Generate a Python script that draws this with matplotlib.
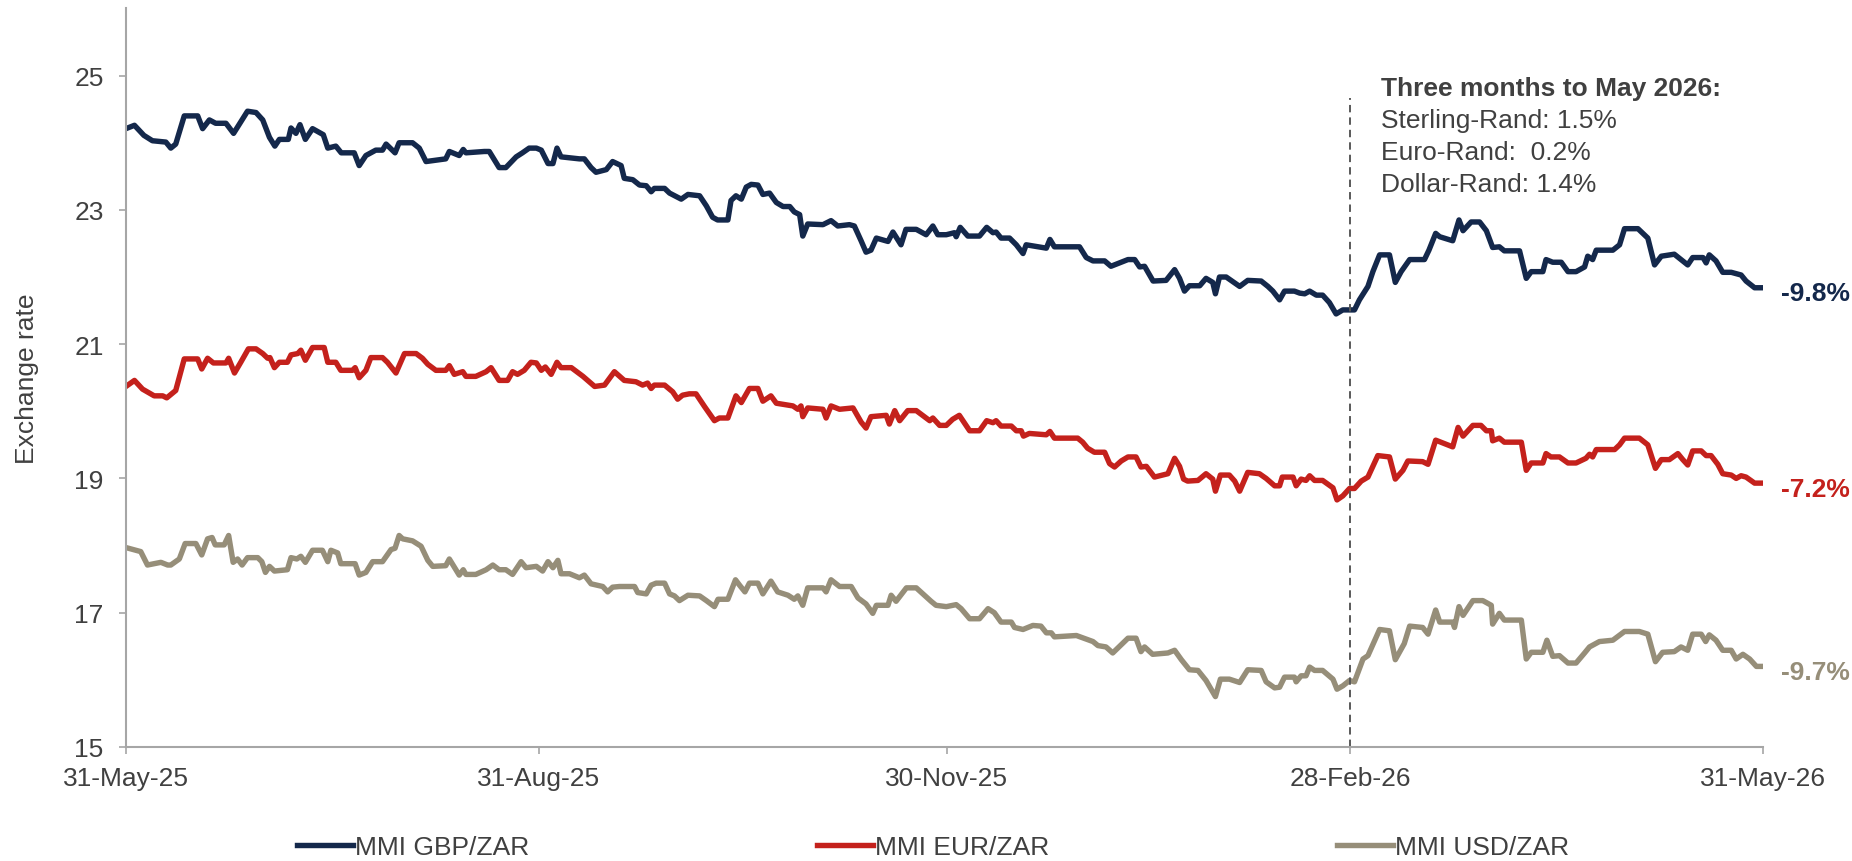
import numpy as np
import matplotlib
matplotlib.use('Agg')
import matplotlib.pyplot as plt
import matplotlib.dates as mdates
from datetime import datetime

plt.rcParams['font.family'] = ['Liberation Sans', 'DejaVu Sans']
plt.rcParams['font.size'] = 19

#### Data (day offsets from 31-May-25) ####
start_date = datetime(2025, 5, 31)

gbp_days = [0, 1.9, 4.0, 5.9, 8.9, 10.0, 11.1, 13.0, 16.0, 17.1, 18.6, 20.0, 22.3, 24.0, 27.1, 29.0,
            30.5, 32.0, 33.2, 34.2, 36.2, 36.8, 37.9, 38.8, 40.0, 41.6, 44.0, 45.0, 46.8, 48.0, 50.9,
            52.0, 53.5, 55.7, 57.2, 58.0, 60.0, 60.9, 63.9, 65.4, 66.9, 71.3, 72.1, 74.3, 75.2, 75.8,
            79.9, 81.0, 83.2, 84.7, 87.0, 88.4, 89.9, 91.5, 92.6, 94.1, 95.2, 96.1, 97.0, 101.1, 102.2,
            103.7, 104.8, 107.1, 108.5, 110.4, 111.1, 113.0, 114.5, 116.0, 117.1, 117.8, 120.1, 121.2,
            123.8, 125.3, 127.9, 129.4, 130.8, 131.9, 134.2, 134.9, 136.0, 137.2, 138.3, 139.4, 140.9,
            142.0, 143.5, 145.0, 146.5, 148.0, 149.0, 150.2, 150.9, 152.0, 155.4, 157.2, 158.7, 161.3,
            162.4, 163.9, 165.0, 166.1, 167.3, 169.9, 171.0, 172.8, 173.9, 176.2, 178.4, 179.9, 181.0,
            182.9, 184.7, 185.1, 186.0, 187.7, 190.3, 191.9, 193.3, 194.0, 195.1, 197.0, 198.5, 200.0,
            200.7, 205.2, 206.0, 207.0, 212.6, 214.1, 215.6, 218.2, 219.6, 221.5, 223.4, 224.9, 226.0,
            227.1, 229.0, 231.9, 233.8, 234.9, 236.0, 237.1, 239.4, 240.8, 242.3, 242.9, 243.8, 245.3,
            248.3, 250.1, 253.1, 254.6, 255.7, 257.2, 258.3, 260.5, 261.7, 262.8, 263.9, 265.4, 266.8,
            268.3, 269.8, 271.3, 273.9, 275.0, 276.9, 278.0, 279.5, 281.7, 283.0, 284.3, 286.2, 289.5,
            290.5, 292.0, 292.9, 295.8, 297.2, 298.1, 299.9, 301.8, 303.3, 304.7, 306.2, 307.3, 310.7,
            312.2, 313.3, 315.9, 316.6, 318.1, 320.0, 321.5, 323.3, 325.2, 325.9, 327.0, 327.8, 331.5,
            333.0, 334.1, 337.1, 339.3, 340.8, 342.3, 345.2, 346.7, 348.2, 349.3, 351.6, 352.3, 353.0,
            354.5, 356.0, 357.9, 360.1, 361.2, 363.1, 365.0]
gbp_rate = [24.21, 24.26, 24.11, 24.03, 24.01, 23.92, 23.98, 24.40, 24.40, 24.21, 24.34, 24.29, 24.29,
            24.14, 24.47, 24.45, 24.34, 24.08, 23.95, 24.05, 24.05, 24.22, 24.14, 24.27, 24.05, 24.21,
            24.12, 23.92, 23.95, 23.85, 23.85, 23.66, 23.81, 23.89, 23.89, 23.98, 23.85, 24.00, 24.00,
            23.92, 23.72, 23.76, 23.87, 23.81, 23.90, 23.85, 23.87, 23.87, 23.63, 23.63, 23.79, 23.85,
            23.92, 23.92, 23.89, 23.69, 23.69, 23.92, 23.79, 23.76, 23.76, 23.63, 23.56, 23.60, 23.72,
            23.66, 23.47, 23.45, 23.37, 23.36, 23.27, 23.32, 23.32, 23.25, 23.16, 23.23, 23.21, 23.06,
            22.89, 22.85, 22.85, 23.14, 23.21, 23.16, 23.34, 23.38, 23.37, 23.23, 23.25, 23.11, 23.05,
            23.05, 22.97, 22.93, 22.61, 22.79, 22.78, 22.84, 22.76, 22.78, 22.76, 22.54, 22.37, 22.40,
            22.58, 22.53, 22.67, 22.48, 22.71, 22.71, 22.63, 22.76, 22.63, 22.63, 22.66, 22.60, 22.74,
            22.61, 22.61, 22.74, 22.66, 22.67, 22.58, 22.58, 22.48, 22.35, 22.48, 22.43, 22.56, 22.45,
            22.45, 22.29, 22.24, 22.24, 22.16, 22.21, 22.26, 22.26, 22.15, 22.16, 21.94, 21.95, 22.11,
            21.98, 21.79, 21.87, 21.87, 21.98, 21.92, 21.75, 22.00, 22.00, 21.86, 21.95, 21.94, 21.86,
            21.79, 21.66, 21.79, 21.79, 21.76, 21.75, 21.79, 21.73, 21.73, 21.62, 21.45, 21.51, 21.51,
            21.66, 21.86, 22.08, 22.33, 22.33, 21.92, 22.08, 22.26, 22.26, 22.40, 22.65, 22.60, 22.54,
            22.85, 22.69, 22.82, 22.82, 22.69, 22.44, 22.45, 22.39, 22.39, 21.98, 22.08, 22.08, 22.26,
            22.22, 22.22, 22.08, 22.08, 22.15, 22.31, 22.26, 22.40, 22.40, 22.48, 22.72, 22.72, 22.58,
            22.18, 22.31, 22.34, 22.26, 22.18, 22.29, 22.29, 22.21, 22.33, 22.24, 22.07, 22.07, 22.03,
            21.94, 21.84, 21.84]

eur_days = [0, 1.9, 3.7, 6.3, 8.2, 9.1, 11.1, 13.0, 16.0, 16.9, 18.2, 19.5, 22.3, 22.9, 24.2, 25.6,
            27.3, 29.0, 30.5, 31.6, 32.1, 33.1, 34.2, 36.0, 36.8, 38.3, 39.0, 40.0, 41.6, 44.2, 45.0,
            46.8, 47.9, 50.5, 51.1, 52.0, 53.5, 54.6, 57.2, 58.3, 60.2, 62.1, 64.7, 66.1, 67.3, 69.1,
            71.3, 72.1, 73.2, 75.1, 75.8, 78.0, 80.3, 81.4, 83.2, 85.1, 86.2, 87.3, 88.8, 90.3, 91.5,
            92.6, 93.5, 94.8, 96.1, 97.0, 99.3, 101.9, 104.5, 106.7, 108.9, 111.1, 113.7, 115.2, 116.3,
            117.1, 117.8, 120.1, 121.9, 123.0, 124.1, 125.6, 127.1, 129.0, 131.2, 132.3, 134.2, 136.0,
            137.2, 139.0, 140.9, 142.0, 143.8, 145.0, 148.7, 149.8, 150.5, 150.9, 152.0, 155.4, 156.1,
            157.2, 159.1, 162.1, 163.9, 165.0, 166.1, 169.5, 170.2, 171.4, 172.5, 174.3, 176.2, 178.0,
            179.2, 179.9, 181.4, 182.9, 184.3, 185.8, 188.1, 190.3, 191.9, 193.3, 194.0, 195.1, 197.4,
            198.5, 199.6, 200.1, 201.4, 205.2, 206.0, 207.0, 212.2, 213.3, 214.4, 215.9, 218.2, 219.3,
            220.4, 221.9, 223.4, 225.2, 226.3, 227.5, 229.3, 232.3, 233.8, 234.9, 235.8, 236.7, 239.0,
            240.8, 242.3, 242.9, 244.0, 246.0, 247.2, 248.3, 250.1, 252.7, 254.2, 256.1, 257.2, 257.8,
            260.2, 260.9, 262.0, 263.1, 263.9, 265.0, 266.8, 269.1, 270.0, 271.3, 272.8, 273.9, 275.4,
            276.9, 279.1, 281.7, 283.0, 284.7, 285.8, 289.1, 290.3, 292.0, 295.8, 297.0, 298.1, 300.3,
            302.1, 303.3, 304.4, 304.7, 306.2, 307.3, 311.1, 312.2, 313.3, 315.9, 316.6, 317.7, 319.6,
            321.5, 323.3, 325.5, 326.3, 327.0, 327.8, 331.9, 333.0, 334.1, 337.4, 339.3, 341.0, 342.3,
            344.1, 346.0, 347.1, 348.2, 349.3, 351.2, 352.3, 353.4, 354.9, 356.0, 357.9, 359.0, 360.1,
            361.2, 363.1, 365.0]
eur_rate = [20.37, 20.46, 20.33, 20.23, 20.23, 20.20, 20.31, 20.78, 20.78, 20.63, 20.79, 20.72, 20.72,
            20.79, 20.57, 20.73, 20.93, 20.93, 20.86, 20.79, 20.80, 20.65, 20.73, 20.73, 20.84, 20.86,
            20.91, 20.76, 20.95, 20.95, 20.73, 20.73, 20.61, 20.61, 20.65, 20.50, 20.61, 20.80, 20.80,
            20.73, 20.57, 20.86, 20.86, 20.79, 20.70, 20.61, 20.61, 20.68, 20.55, 20.59, 20.52, 20.52,
            20.59, 20.65, 20.46, 20.46, 20.59, 20.55, 20.61, 20.73, 20.72, 20.61, 20.66, 20.55, 20.73,
            20.65, 20.65, 20.52, 20.37, 20.39, 20.59, 20.46, 20.44, 20.39, 20.42, 20.34, 20.39, 20.39,
            20.29, 20.18, 20.24, 20.26, 20.26, 20.07, 19.86, 19.90, 19.90, 20.23, 20.13, 20.34, 20.34,
            20.15, 20.23, 20.12, 20.08, 20.03, 20.08, 19.92, 20.05, 20.03, 19.90, 20.08, 20.03, 20.05,
            19.84, 19.75, 19.92, 19.94, 19.81, 20.01, 19.86, 20.01, 20.01, 19.92, 19.86, 19.90, 19.79,
            19.79, 19.88, 19.94, 19.71, 19.71, 19.86, 19.83, 19.86, 19.78, 19.78, 19.71, 19.71, 19.63,
            19.67, 19.65, 19.70, 19.60, 19.60, 19.54, 19.45, 19.39, 19.39, 19.22, 19.17, 19.26, 19.32,
            19.32, 19.17, 19.18, 19.02, 19.07, 19.30, 19.18, 18.99, 18.96, 18.97, 19.07, 18.99, 18.81,
            19.05, 19.05, 18.96, 18.81, 19.09, 19.07, 19.00, 18.89, 18.89, 19.02, 19.02, 18.89, 18.99,
            18.97, 19.04, 18.97, 18.97, 18.86, 18.68, 18.74, 18.85, 18.85, 18.96, 19.02, 19.34, 19.32,
            18.99, 19.12, 19.26, 19.25, 19.21, 19.57, 19.47, 19.76, 19.63, 19.79, 19.79, 19.71, 19.71,
            19.56, 19.60, 19.54, 19.54, 19.12, 19.23, 19.23, 19.37, 19.32, 19.32, 19.23, 19.23, 19.30,
            19.36, 19.32, 19.43, 19.43, 19.50, 19.60, 19.60, 19.50, 19.15, 19.28, 19.28, 19.37, 19.28,
            19.20, 19.41, 19.41, 19.34, 19.34, 19.21, 19.07, 19.05, 19.00, 19.04, 19.02, 18.93, 18.93]

usd_days = [0, 2.2, 3.3, 4.8, 7.8, 9.3, 10.0, 11.9, 13.2, 15.6, 16.9, 18.2, 19.2, 19.9, 21.9, 22.9,
            23.9, 24.9, 25.9, 27.1, 29.4, 30.3, 31.1, 32.0, 33.1, 36.0, 36.8, 38.1, 39.0, 40.0, 41.6,
            43.8, 45.0, 45.7, 47.2, 47.9, 51.1, 52.0, 53.5, 55.0, 57.2, 59.1, 60.0, 60.9, 61.7, 63.9,
            65.8, 67.3, 68.4, 71.3, 72.1, 74.3, 75.2, 75.8, 78.0, 80.3, 81.8, 83.2, 84.7, 86.2, 88.1,
            89.2, 91.5, 92.9, 94.1, 95.2, 96.3, 97.0, 98.9, 101.1, 102.2, 103.7, 106.3, 107.4, 108.5,
            110.0, 113.4, 114.1, 116.0, 117.1, 118.2, 120.1, 121.2, 122.3, 123.4, 125.3, 127.9, 129.4,
            131.2, 132.0, 134.2, 135.9, 136.8, 138.0, 139.0, 140.9, 142.0, 143.8, 145.3, 147.6, 149.0,
            149.8, 150.9, 152.0, 155.4, 156.1, 157.2, 159.1, 161.7, 163.2, 165.0, 166.5, 167.3, 169.9,
            170.6, 171.7, 174.0, 176.2, 178.0, 179.5, 180.6, 182.9, 185.1, 186.2, 188.1, 190.3, 192.2,
            193.6, 195.1, 197.4, 198.1, 200.0, 202.2, 204.0, 205.2, 206.3, 207.0, 211.9, 215.6, 216.7,
            218.5, 220.0, 223.4, 225.2, 226.3, 227.1, 228.9, 232.3, 233.8, 235.3, 237.1, 239.0, 240.8,
            242.9, 244.0, 246.0, 248.3, 250.1, 253.1, 254.2, 256.1, 257.2, 258.3, 260.5, 260.9, 262.0,
            263.1, 263.9, 265.0, 266.8, 269.1, 270.0, 271.3, 272.8, 273.9, 275.8, 276.9, 279.5, 281.7,
            283.0, 285.0, 286.2, 289.1, 290.3, 292.0, 292.9, 295.8, 296.2, 297.2, 298.1, 300.3, 302.5,
            304.4, 304.7, 306.2, 307.3, 311.1, 312.2, 313.3, 315.9, 316.8, 318.1, 319.6, 321.5, 323.3,
            325.2, 326.3, 328.5, 331.5, 334.1, 337.4, 339.3, 341.0, 342.6, 345.2, 346.7, 348.2, 349.3,
            351.2, 352.2, 353.0, 354.5, 356.0, 357.9, 359.0, 360.5, 362.0, 363.5, 365.0]
usd_rate = [17.97, 17.93, 17.91, 17.71, 17.75, 17.71, 17.71, 17.80, 18.03, 18.03, 17.86, 18.10, 18.12,
            18.01, 18.01, 18.15, 17.75, 17.80, 17.71, 17.82, 17.82, 17.76, 17.60, 17.69, 17.62, 17.64,
            17.82, 17.80, 17.84, 17.75, 17.93, 17.93, 17.76, 17.93, 17.89, 17.73, 17.73, 17.56, 17.60,
            17.76, 17.76, 17.94, 17.96, 18.15, 18.10, 18.07, 17.99, 17.78, 17.69, 17.70, 17.80, 17.56,
            17.64, 17.57, 17.57, 17.64, 17.71, 17.64, 17.64, 17.57, 17.76, 17.67, 17.69, 17.62, 17.76,
            17.67, 17.78, 17.58, 17.58, 17.52, 17.56, 17.43, 17.39, 17.31, 17.38, 17.39, 17.39, 17.30,
            17.28, 17.41, 17.44, 17.44, 17.28, 17.25, 17.18, 17.26, 17.25, 17.18, 17.09, 17.20, 17.20,
            17.49, 17.41, 17.31, 17.44, 17.44, 17.28, 17.47, 17.31, 17.26, 17.20, 17.25, 17.11, 17.37,
            17.37, 17.31, 17.49, 17.39, 17.39, 17.22, 17.13, 16.99, 17.11, 17.11, 17.26, 17.17, 17.37,
            17.37, 17.26, 17.17, 17.11, 17.09, 17.12, 17.06, 16.91, 16.91, 17.06, 17.00, 16.86, 16.86,
            16.78, 16.75, 16.81, 16.80, 16.70, 16.70, 16.64, 16.66, 16.57, 16.51, 16.49, 16.40, 16.62,
            16.62, 16.42, 16.49, 16.38, 16.40, 16.44, 16.30, 16.15, 16.14, 15.99, 15.75, 16.01, 16.01,
            15.96, 16.15, 16.14, 15.97, 15.88, 15.89, 16.04, 16.04, 15.97, 16.06, 16.06, 16.19, 16.14,
            16.14, 16.01, 15.86, 15.91, 15.99, 15.97, 16.31, 16.36, 16.75, 16.73, 16.30, 16.54, 16.80,
            16.78, 16.68, 17.04, 16.86, 16.86, 16.78, 17.09, 16.96, 17.18, 17.18, 17.11, 16.83, 16.99,
            16.89, 16.89, 16.31, 16.41, 16.41, 16.59, 16.35, 16.36, 16.25, 16.25, 16.40, 16.49, 16.57,
            16.59, 16.72, 16.72, 16.68, 16.27, 16.41, 16.42, 16.49, 16.44, 16.68, 16.68, 16.57, 16.67,
            16.59, 16.44, 16.44, 16.31, 16.38, 16.31, 16.20, 16.20]

series_names = ['MMI GBP/ZAR', 'MMI EUR/ZAR', 'MMI USD/ZAR']
end_labels = ['-9.8%', '-7.2%', '-9.7%']
colors = ['#14284b', '#c4211c', '#968e79']

tick_dates = [datetime(2025, 5, 31), datetime(2025, 8, 31), datetime(2025, 11, 30),
              datetime(2026, 2, 28), datetime(2026, 5, 31)]
tick_labels = ['31-May-25', '31-Aug-25', '30-Nov-25', '28-Feb-26', '31-May-26']

note_title = 'Three months to May 2026:'
note_lines = ['Sterling-Rand: 1.5%', 'Euro-Rand:  0.2%', 'Dollar-Rand: 1.4%']

#### Plot ####
txt = '#404040'
axc = '#a6a6a6'
t0 = mdates.date2num(start_date)

fig, ax = plt.subplots(figsize=(18.52, 8.62), dpi=100)
plt.subplots_adjust(left=0.068, right=0.952, bottom=0.1323, top=0.989)

all_days = [gbp_days, eur_days, usd_days]
all_rates = [gbp_rate, eur_rate, usd_rate]
for days, rate, c, name, lab in zip(all_days, all_rates, colors, series_names, end_labels):
    x = t0 + np.array(days)
    ax.plot(x, rate, color=c, lw=3.9, label=name, solid_joinstyle='round')
    ax.annotate(lab, (x[-1], rate[-1]), xytext=(13, -4), textcoords='offset points',
                color=c, fontweight='bold', va='center', ha='left', annotation_clip=False)

# 3-month marker
ax.axvline(mdates.date2num(tick_dates[3]), ymin=0, ymax=0.879, color='#595959',
           lw=1.4, ls=(0, (3.8, 2.6)))

ax.text(0.7667, 0.8828, note_title, transform=ax.transAxes, fontweight='bold', color=txt,
        va='baseline')
for i, line in enumerate(note_lines):
    ax.text(0.7667, 0.8394 - i*0.0433, line, transform=ax.transAxes, color=txt, va='baseline')

ax.set_xlim(t0, t0 + 365)
ax.set_ylim(15, 26)
ax.set_yticks([15, 17, 19, 21, 23, 25])
ax.set_xticks([mdates.date2num(d) for d in tick_dates])
ax.set_xticklabels(tick_labels)
ax.set_ylabel('Exchange rate', color=txt)
ax.yaxis.set_label_coords(-0.053, 0.5)

for s in ['top', 'right']:
    ax.spines[s].set_visible(False)
for s in ['left', 'bottom']:
    ax.spines[s].set_color(axc)
    ax.spines[s].set_linewidth(1.5)
ax.tick_params(axis='both', direction='out', length=5, width=1.2, color=axc, labelcolor=txt)
ax.tick_params(axis='x', pad=9)
ax.tick_params(axis='y', pad=11)

fig.legend(loc='center', bbox_to_anchor=(0.504, 0.016), ncol=3, frameon=False,
           handlelength=2.1, handletextpad=0.1, columnspacing=10.9, fontsize=19,
           labelcolor=txt)

fig.savefig('out.png', dpi=100)
